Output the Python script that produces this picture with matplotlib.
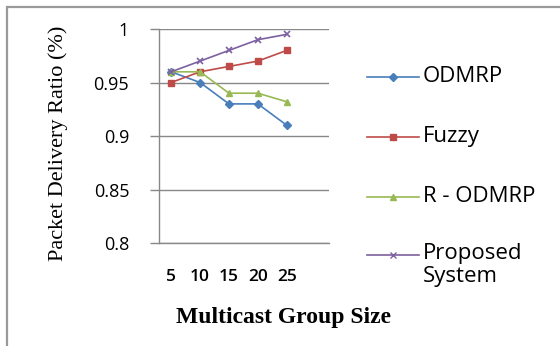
import matplotlib
matplotlib.use("Agg")
import matplotlib.pyplot as plt
from matplotlib.lines import Line2D
from matplotlib.patches import Rectangle

# Packet delivery ratio against multicast group size
group_sizes = ["5", "10", "15", "20", "25"]
odmrp = [0.96, 0.95, 0.93, 0.93, 0.91]
fuzzy = [0.95, 0.96, 0.965, 0.97, 0.98]
r_odmrp = [0.96, 0.96, 0.94, 0.94, 0.932]
proposed = [0.96, 0.97, 0.98, 0.99, 0.995]

y_ticks = [0.8, 0.85, 0.9, 0.95, 1.0]
y_tick_labels = ["0.8", "0.85", "0.9", "0.95", "1"]

series = [
    ("ODMRP", odmrp, "#4A7EBB", "D", 4.0),
    ("Fuzzy", fuzzy, "#BE4B48", "s", 5.0),
    ("R - ODMRP", r_odmrp, "#98B954", "^", 5.0),
    ("Proposed\nSystem", proposed, "#7D60A0", "x", 5.0),
]

W, H = 560, 346
fig = plt.figure(figsize=(5.6, 3.46), dpi=100)
fig.patch.set_facecolor("white")

def fx(px):
    return px / W

def fy(py):
    return 1 - py / H

# outer chart border (right/bottom fall off the edge)
fig.patches.append(Rectangle((fx(7), fy(360)), fx(570) - fx(7), fy(7) - fy(360),
                             transform=fig.transFigure, fill=False,
                             edgecolor="#9a9a9a", lw=1.6))

ax = fig.add_axes([fx(159), fy(243), fx(329) - fx(159), fy(29) - fy(243)])
x = list(range(len(group_sizes)))
for name, vals, col, mk, ms in series:
    ax.plot(x, vals, color=col, marker=mk, markersize=ms, lw=1.2,
            markeredgewidth=1.0 if mk != "x" else 1.2, zorder=3)

ax.set_xlim(-0.42, 5.46)
ax.set_ylim(0.8, 1.0)
ax.set_yticks(y_ticks)
ax.set_yticklabels(y_tick_labels, fontfamily="Open Sans", fontsize=13)
ax.set_xticks(x)
ax.set_xticklabels(group_sizes, fontfamily="Open Sans", fontsize=12.5,
                   fontweight="semibold")
ax.tick_params(axis="y", length=6.5, width=1.0, color="#888888", pad=15)
ax.tick_params(axis="x", length=0, pad=19)
ax.grid(axis="y", color="#888888", lw=1.0)
ax.set_axisbelow(True)
for s in ["top", "right"]:
    ax.spines[s].set_visible(False)
for s in ["left", "bottom"]:
    ax.spines[s].set_color("#888888")
    ax.spines[s].set_linewidth(1.0)

fig.text(fx(58), fy(143), "Packet Delivery Ratio (%)", rotation=90,
         ha="center", va="center", fontfamily="Liberation Serif", fontsize=16)
fig.text(fx(284), fy(318), "Multicast Group Size", ha="center", va="center",
         fontfamily="Liberation Serif", fontsize=17, fontweight="bold")

# legend on the right
rows = [77, 137, 197, 255]
for (name, vals, col, mk, ms), ry in zip(series, rows):
    fig.lines.append(Line2D([fx(367), fx(419)], [fy(ry), fy(ry)],
                            transform=fig.transFigure, color=col, lw=1.2))
    fig.lines.append(Line2D([fx(393)], [fy(ry)], transform=fig.transFigure,
                            color=col, marker=mk, markersize=ms, lw=0))
    if "\n" in name:
        fig.text(fx(423), fy(ry - 12), name, ha="left", va="top",
                 fontfamily="Open Sans", fontsize=16, linespacing=1.15)
    else:
        fig.text(fx(423), fy(ry), name, ha="left", va="center",
                 fontfamily="Open Sans", fontsize=16)

fig.savefig("out.png", dpi=100)
